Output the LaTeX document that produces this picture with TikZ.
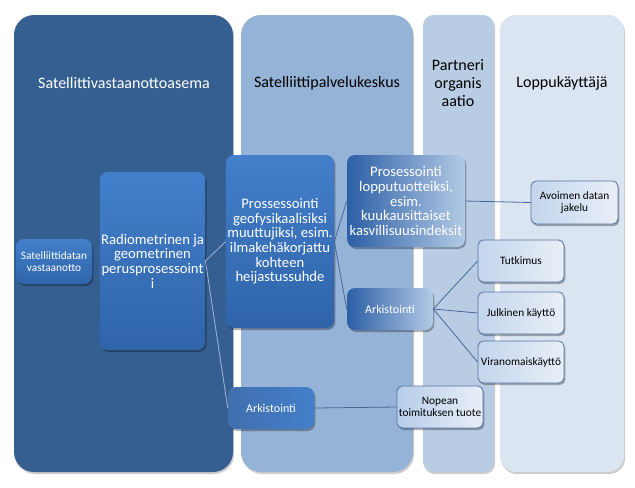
\documentclass[tikz,border=0pt]{standalone}
\usepackage{fontspec}
\setmainfont{Carlito}
\usetikzlibrary{shadows}
\definecolor{colA}{HTML}{365F91}
\definecolor{colB}{HTML}{95B3D7}
\definecolor{colC}{HTML}{B8CCE4}
\definecolor{colD}{HTML}{DBE5F1}
\definecolor{dkTop}{HTML}{437FCB}
\definecolor{dkBot}{HTML}{2F64A9}
\definecolor{dkL}{HTML}{2C5FA6}
\definecolor{ltL}{HTML}{B3CAE6}
\definecolor{lbA}{HTML}{C3D5EC}
\definecolor{lbB}{HTML}{E9EFF8}
\definecolor{lbBorder}{HTML}{5575A5}
\definecolor{connDark}{HTML}{46699C}
\definecolor{connLight}{HTML}{9FB6D6}
\tikzset{
  shd/.style={drop shadow={shadow xshift=1pt,shadow yshift=-1.5pt,opacity=0.3,fill=black}},
  colshd/.style={drop shadow={shadow xshift=0.8pt,shadow yshift=-1.5pt,opacity=0.2,fill=black}},
  big/.style={shd,rounded corners=6pt,align=center,text=white,inner sep=1pt,
    font=\fontsize{11}{11}\selectfont},
  darkbox/.style={big,top color=dkTop,bottom color=dkBot},
  gradbox/.style={big,left color=dkL,right color=ltL},
  lightbox/.style={shd,rounded corners=4pt,align=center,text=black,inner sep=1pt,
    draw=lbBorder,line width=0.6pt,left color=lbA,right color=lbB,
    font=\fontsize{8.5}{9.5}\selectfont,minimum width=64.5pt,minimum height=31.5pt},
  smalldark/.style={darkbox,font=\fontsize{8.5}{9.5}\selectfont},
  conn/.style={draw=connDark,line width=0.6pt},
  connlt/.style={draw=connLight,line width=0.6pt},
  head/.style={align=center,font=\fontsize{12}{13.5}\selectfont,inner sep=0pt}
}
\begin{document}
\begin{tikzpicture}[x=0.75pt,y=-0.75pt]
\useasboundingbox (0,0) rectangle (635,487);
% columns
\fill[colA,colshd,rounded corners=15pt] (14,15) rectangle (233,472);
\fill[colB,colshd,rounded corners=15pt] (241,15) rectangle (413,472);
\fill[colC,colshd,rounded corners=8pt] (423,15) rectangle (494,472);
\fill[colD,colshd,rounded corners=12pt] (500,15) rectangle (624,472);
% headers
\node[head,text=white] (h1) at (124,83) {Satellittivastaanottoasema};
\node[head] (h2) at (327,83) {Satelliittipalvelukeskus};
\node[head] (h3) at (458,83) {Partneri\\organis\\aatio};
\node[head] (h4) at (562,83) {Loppukäyttäjä};
% nodes
\node[smalldark,minimum width=57pt,minimum height=33.75pt] (sat) at (54,261.5) {Satelliittidatan\\vastaanotto};
\node[darkbox,minimum width=75.75pt,minimum height=133.5pt] (rad) at (152.5,261) {Radiometrinen ja\\geometrinen\\perusprosessoint\\i};
\node[darkbox,minimum width=78pt,minimum height=129.75pt] (geo) at (280,241.5) {Prossessointi\\geofysikaalisiksi\\muuttujiksi, esim.\\ilmakehäkorjattu\\kohteen\\heijastussuhde};
\node[gradbox,minimum width=88.5pt,minimum height=69pt] (lop) at (406,201) {Prosessointi\\lopputuotteiksi,\\esim.\\kuukausittaiset\\kasvillisuusindeksit};
\node[gradbox,font=\fontsize{9}{11}\selectfont,minimum width=64.5pt,minimum height=31.5pt] (ark1) at (390,309) {Arkistointi};
\node[big,left color=dkL!90!white,right color=dkTop,font=\fontsize{9}{11}\selectfont,minimum width=64.5pt,minimum height=31.5pt] (ark2) at (271,408) {Arkistointi};
\node[lightbox,left color=lbA!90!dkTop] (nop) at (440,407) {Nopean\\toimituksen tuote};
\node[lightbox,minimum width=65.25pt,minimum height=32.25pt] (avo) at (574.5,202.5) {Avoimen datan\\jakelu};
\node[lightbox] (tut) at (521,261) {Tutkimus};
\node[lightbox] (jul) at (521,313) {Julkinen käyttö};
\node[lightbox] (vir) at (521,362) {Viranomaiskäyttö};
% connectors
\draw[connlt] (rad.east) -- (geo.west);
\draw[connlt] (rad.east) -- (ark2.west);
\draw[conn] (geo.east) -- (lop.west);
\draw[conn] (geo.east) -- (ark1.west);
\draw[conn] (lop.east) -- (avo.west);
\draw[conn] (ark1.east) -- (tut.west);
\draw[conn] (ark1.east) -- (jul.west);
\draw[conn] (ark1.east) -- (vir.west);
\draw[conn] (ark2.east) -- (nop.west);
\end{tikzpicture}
\end{document}
